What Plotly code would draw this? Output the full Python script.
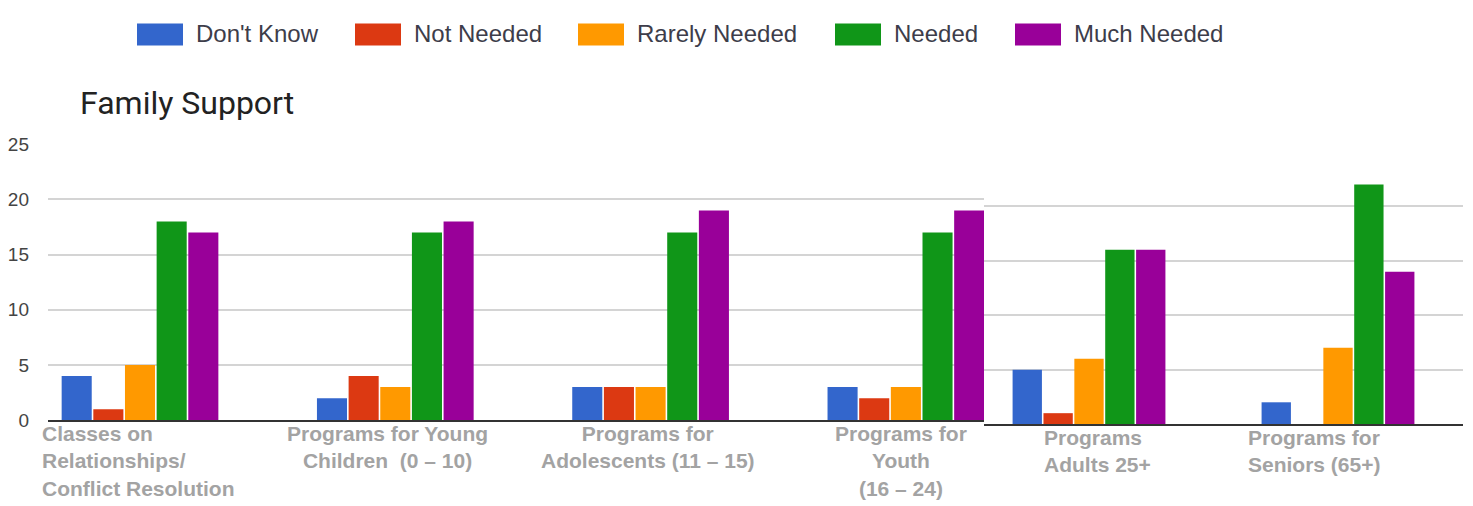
import plotly.graph_objects as go

# ---------------- data ----------------
series_names = ["Don't Know", "Not Needed", "Rarely Needed", "Needed", "Much Needed"]
series_colors = ["#3366cc", "#dc3912", "#ff9900", "#109618", "#990099"]

left_categories = ["Classes on Relationships/ Conflict Resolution",
                   "Programs for Young Children (0 – 10)",
                   "Programs for Adolescents (11 – 15)",
                   "Programs for Youth (16 – 24)"]
left_labels = ["Classes on<br>Relationships/<br>Conflict Resolution",
               "Programs for Young<br>Children  (0 – 10)",
               "Programs for<br>Adolescents (11 – 15)",
               "Programs for<br>Youth<br>(16 – 24)"]
left_values = {
    "Don't Know":    [4, 2, 3, 3],
    "Not Needed":    [1, 4, 3, 2],
    "Rarely Needed": [5, 3, 3, 3],
    "Needed":        [18, 17, 17, 17],
    "Much Needed":   [17, 18, 19, 19],
}

right_categories = ["Programs Adults 25+", "Programs for Seniors (65+)"]
right_labels = ["Programs<br>Adults 25+", "Programs for<br>Seniors (65+)"]
right_values = {
    "Don't Know":    [5, 2],
    "Not Needed":    [1, 0],
    "Rarely Needed": [6, 7],
    "Needed":        [16, 22],
    "Much Needed":   [16, 14],
}

y_ticks = [0, 5, 10, 15, 20, 25]
title_text = "Family Support"

# ---------------- layout constants (pixels) ----------------
W, H = 1473, 506
def px(x):
    return x / W
def py(y):
    return 1 - y / H

left_align = ["left", "center", "center", "center"]
right_align = ["left", "left"]
right_shift = [8, -24]
left_shift = [-2, -8, -3, -5]

fig = go.Figure()
for name, color in zip(series_names, series_colors):
    fig.add_trace(go.Bar(x=left_categories, y=left_values[name], name=name,
                         marker=dict(color=color, line=dict(width=0)),
                         xaxis="x", yaxis="y", showlegend=False))
    fig.add_trace(go.Bar(x=right_categories, y=right_values[name], name=name,
                         marker=dict(color=color, line=dict(width=0)),
                         xaxis="x2", yaxis="y2", showlegend=False))

grid = "#d4d4d4"
fig.update_layout(
    width=W, height=H,
    margin=dict(l=0, r=0, t=0, b=0),
    paper_bgcolor="white", plot_bgcolor="rgba(0,0,0,0)",
    barmode="group", bargap=0.38, bargroupgap=0.05,
    showlegend=False,
    font=dict(family="Arial, Liberation Sans, sans-serif"),
    xaxis=dict(domain=[px(48), px(984)], type="category", anchor="y",
               range=[-0.3604, 3.306], showticklabels=False, showgrid=False,
               showline=True, linecolor="#333333", linewidth=2, zeroline=False,
               fixedrange=True),
    yaxis=dict(domain=[py(428), py(140)], range=[0, 25], tickvals=y_ticks,
               anchor="x", showgrid=True, gridcolor=grid, gridwidth=1.5,
               zeroline=False, showline=False,
               tickfont=dict(size=19, color="#444444", family="Arial, Liberation Sans, sans-serif"),
               ticklabelstandoff=18, fixedrange=True),
    xaxis2=dict(domain=[px(984), px(1463)], type="category", anchor="y2",
                range=[-0.4217, 1.502], showticklabels=False, showgrid=False,
                showline=True, linecolor="#333333", linewidth=2, zeroline=False,
                fixedrange=True),
    yaxis2=dict(domain=[py(432), py(148)], range=[0, 25], tickvals=y_ticks,
                anchor="x2", showgrid=True, gridcolor=grid, gridwidth=1.5,
                zeroline=False, showline=False, showticklabels=False,
                fixedrange=True),
)

label_font = dict(family="Arial, Liberation Sans, sans-serif", size=21, color="#a3a3a3")
annotations = []
for cat, lab, al, sh in zip(left_categories, left_labels, left_align, left_shift):
    annotations.append(dict(x=cat, xref="x", y=py(428), yref="paper", text="<b>" + lab + "</b>",
                            showarrow=False, xanchor="center", yanchor="top", align=al,
                            xshift=sh, yshift=0, font=label_font))
for cat, lab, al, sh in zip(right_categories, right_labels, right_align, right_shift):
    annotations.append(dict(x=cat, xref="x2", y=py(432), yref="paper", text="<b>" + lab + "</b>",
                            showarrow=False, xanchor="center", yanchor="top", align=al,
                            xshift=sh, yshift=0, font=label_font))

# title
annotations.append(dict(x=px(78), y=py(97), xref="paper", yref="paper", text=title_text,
                        showarrow=False, xanchor="left", yanchor="middle",
                        font=dict(family="Roboto, Arial, sans-serif", size=32, color="#222222")))

# custom legend (large swatches like the original)
legend_x = [137, 355, 578, 835, 1015]
shapes = []
for name, color, lx in zip(series_names, series_colors, legend_x):
    shapes.append(dict(type="rect", xref="paper", yref="paper",
                       x0=px(lx), x1=px(lx + 46), y0=py(37), y1=py(14),
                       fillcolor=color, line=dict(width=0)))
    annotations.append(dict(x=px(lx + 57), y=py(25), xref="paper", yref="paper", text=name,
                            showarrow=False, xanchor="left", yanchor="middle",
                            font=dict(family="Arial, Liberation Sans, sans-serif", size=24,
                                      color="#3d3d4a")))

fig.update_layout(annotations=annotations, shapes=shapes)
fig.write_html("out.html")
